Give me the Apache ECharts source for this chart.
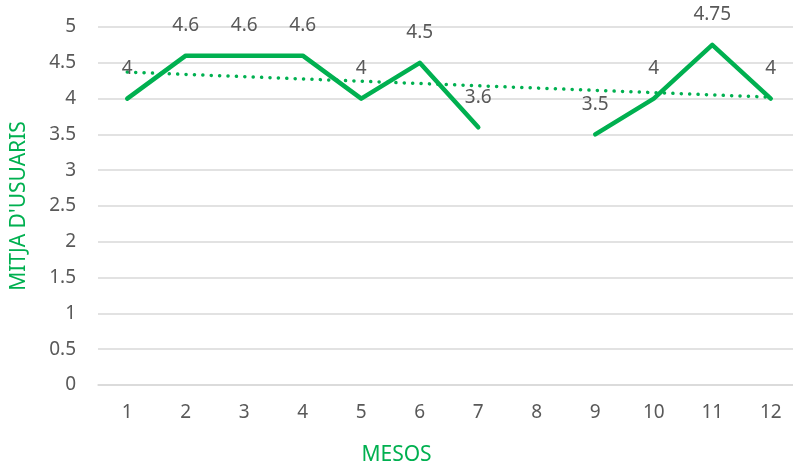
<!DOCTYPE html>
<html>
<head>
<meta charset="utf-8">
<script src="https://cdn.jsdelivr.net/npm/echarts@6/dist/echarts.min.js"></script>
<style>
  html, body { margin: 0; padding: 0; background: #fff; }
  #chart { width: 793px; height: 471px; }
</style>
</head>
<body>
<div id="chart"></div>
<script>
// dades del gràfic
const mesos = ['1', '2', '3', '4', '5', '6', '7', '8', '9', '10', '11', '12']
const mitjana = [4, 4.6, 4.6, 4.6, 4, 4.5, 3.6, null, 3.5, 4, 4.75, 4]
// línia de tendència (extrems llegits de la imatge)
const tendencia = [[0, 4.37], [11, 4.02]]
const yTicks = { min: 0, max: 5, interval: 0.5 }

const verd = '#00B050'
const gris = '#595959'
const font = 'Noto Sans'

const chart = echarts.init(document.getElementById('chart'))
const option = {
  animation: false,
  backgroundColor: '#fff',
  title: {
    text: 'MESOS',
    left: 'center',
    top: 445,
    padding: 0,
    textStyle: { color: verd, fontSize: 21, fontWeight: 'normal', fontFamily: font }
  },
  grid: {
    left: 98,
    top: 27,
    width: 702,
    height: 358,
    outerBoundsMode: 'none',
    containLabel: false
  },
  xAxis: {
    type: 'category',
    data: mesos,
    axisTick: { show: false },
    axisLine: { lineStyle: { color: '#d9d9d9', width: 1.5 } },
    axisLabel: { color: gris, fontSize: 19, fontFamily: font, margin: 18 }
  },
  yAxis: {
    type: 'value',
    min: yTicks.min,
    max: yTicks.max,
    interval: yTicks.interval,
    name: "MITJA D'USUARIS",
    nameLocation: 'middle',
    nameGap: 68,
    nameTextStyle: { color: verd, fontSize: 21, fontFamily: font },
    axisLine: { show: false },
    axisTick: { show: false },
    axisLabel: { color: gris, fontSize: 19, fontFamily: font, margin: 22 },
    splitLine: { lineStyle: { color: '#d9d9d9', width: 1.5 } }
  },
  series: [
    {
      name: 'Mitjana',
      type: 'line',
      data: mitjana,
      connectNulls: false,
      symbol: 'circle',
      symbolSize: 1,
      showAllSymbol: true,
      itemStyle: { color: 'rgba(0,0,0,0)' },
      lineStyle: { color: verd, width: 4.5, cap: 'round', join: 'round' },
      label: {
        show: true,
        position: 'top',
        distance: 20,
        color: gris,
        fontSize: 19,
        fontFamily: font
      },
      z: 3
    },
    {
      name: 'Tendència',
      type: 'line',
      data: tendencia,
      symbol: 'none',
      lineStyle: { color: verd, width: 3.5, type: [0.1, 8.3], cap: 'round' },
      z: 2
    }
  ]
}
chart.setOption(option)
</script>
</body>
</html>
